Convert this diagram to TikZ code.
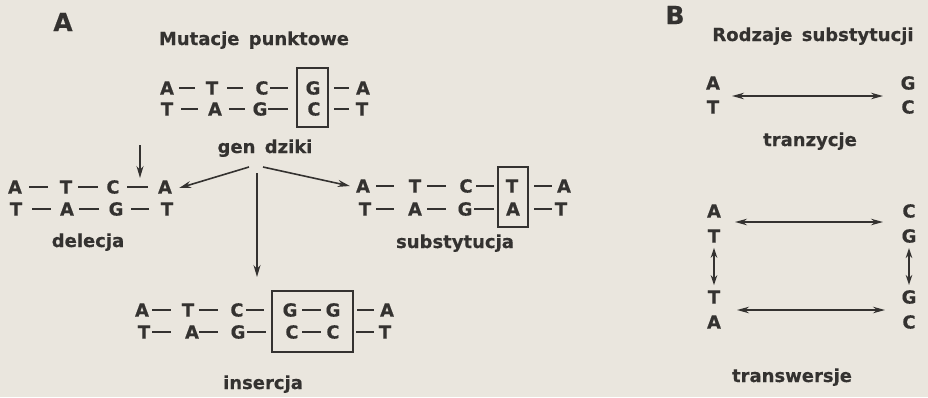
\documentclass[tikz,border=0pt]{standalone}
\usepackage{fontspec}
\setmainfont[BoldFeatures={FakeBold=0.4}]{DejaVu Sans}
\usetikzlibrary{arrows.meta}
\definecolor{bg}{RGB}{234,230,222}
\definecolor{ink}{RGB}{52,50,48}
\tikzset{
  base/.style={inner sep=0pt, font=\fontsize{18}{18}\selectfont\bfseries, text=ink},
  lbl/.style={inner sep=0pt, font=\fontsize{18}{20}\selectfont\bfseries, text=ink, anchor=base},
  big/.style={inner sep=0pt, font=\fontsize{25}{25}\selectfont\bfseries, text=ink},
  bond/.style={line width=2.6pt, draw=ink},
  frame/.style={draw=ink, line width=1.6pt, inner sep=0pt},
  arr/.style={draw=ink, line width=1.6pt, -{Stealth[length=12pt,width=7pt]}},
  darr/.style={draw=ink, line width=1.6pt, {Stealth[length=12pt,width=6.5pt]}-{Stealth[length=12pt,width=6.5pt]}},
  vdarr/.style={draw=ink, line width=1.6pt, {Stealth[length=10pt,width=6.5pt]}-{Stealth[length=10pt,width=6.5pt]}},
}
\begin{document}
\begin{tikzpicture}[x=1pt,y=-1pt]
\fill[bg] (0,0) rectangle (928,397);
\useasboundingbox (0,0) rectangle (928,397);

% ---------- Panel A ----------
\node[big] (labA) at (63,22) {A};
\node[lbl] (titA) at (254,45) {Mutacje\, punktowe};

% wild type
\foreach \x/\t [count=\i] in {167/A,212/T,262/C,313/G,363/A}
  \node[base] (w1-\i) at (\x,88) {\t};
\foreach \x/\t [count=\i] in {167/T,215/A,260/G,314/C,362/T}
  \node[base] (w2-\i) at (\x,109) {\t};
\foreach \a/\b in {179/195,227/243,270/288,334/349} \draw[bond] (\a,88) -- (\b,88);
\foreach \a/\b in {181/198,229/245,268/288,334/349} \draw[bond] (\a,109) -- (\b,109);
\node[frame, minimum width=31pt, minimum height=59pt] (wbox) at (312.5,97.5) {};
\node[lbl] (gen) at (265,153) {gen\, dziki};

% deletion
\foreach \x/\t [count=\i] in {15/A,66/T,113/C,165/A}
  \node[base] (d1-\i) at (\x,187) {\t};
\foreach \x/\t [count=\i] in {16/T,67/A,116/G,167/T}
  \node[base] (d2-\i) at (\x,209) {\t};
\foreach \a/\b in {29/48,78/98,127/148} \draw[bond] (\a,187) -- (\b,187);
\foreach \a/\b in {32/51,79/99,131/149} \draw[bond] (\a,209) -- (\b,209);
\node[lbl] (del) at (88,247) {delecja};
\coordinate (delTop) at (140,145);
\coordinate (delTip) at (140,178);
\draw[arr] (delTop) -- (delTip);

% substitution
\foreach \x/\t [count=\i] in {363/A,415/T,466/C,512/T,564/A}
  \node[base] (s1-\i) at (\x,186) {\t};
\foreach \x/\t [count=\i] in {365/T,415/A,465/G,513/A,561/T}
  \node[base] (s2-\i) at (\x,209) {\t};
\foreach \a/\b in {376/394,427/446,476/494,534/552} \draw[bond] (\a,186) -- (\b,186);
\foreach \a/\b in {376/394,427/446,474/494,534/552} \draw[bond] (\a,209) -- (\b,209);
\node[frame, minimum width=30pt, minimum height=60pt] (sbox) at (513,197) {};
\node[lbl] (sub) at (455,248) {substytucja};

% insertion
\foreach \x/\t [count=\i] in {142/A,188/T,237/C,290/G,333/G,387/A}
  \node[base] (i1-\i) at (\x,310) {\t};
\foreach \x/\t [count=\i] in {144/T,192/A,238/G,292/C,333/C,385/T}
  \node[base] (i2-\i) at (\x,332) {\t};
\foreach \a/\b in {152/171,199/218,246/264,302/321,357/374} \draw[bond] (\a,310) -- (\b,310);
\foreach \a/\b in {152/171,199/218,247/266,302/321,356/374} \draw[bond] (\a,332) -- (\b,332);
\node[frame, minimum width=81pt, minimum height=61pt] (ibox) at (312.5,321.5) {};
\node[lbl] (ins) at (263,389) {insercja};

% arrows from wild type
\coordinate (gL) at (249,167);
\coordinate (gR) at (263,167);
\coordinate (gD) at (257,173);
\coordinate (gDend) at (257,277);
\draw[arr] (gL) -- ([xshift=7pt,yshift=-1pt]d1-4.east);
\draw[arr] (gR) -- ([xshift=-6pt]s1-1.west);
\draw[arr] (gD) -- (gDend);

% ---------- Panel B ----------
\node[big] (labB) at (675,15) {B};
\node[lbl] (titB) at (813,41) {Rodzaje\, substytucji};

% transitions
\node[base] (tA) at (713,83) {A};
\node[base] (tT) at (713,107) {T};
\node[base] (tG) at (908,83) {G};
\node[base] (tC) at (908,107) {C};
\coordinate (tl) at (732,96);
\coordinate (tr) at (883,96);
\draw[darr] (tl) -- (tr);
\node[lbl] (tranz) at (810,146) {tranzycje};

% transversions
\node[base] (vA1) at (714,211) {A};
\node[base] (vT1) at (714,236) {T};
\node[base] (vT2) at (714,297) {T};
\node[base] (vA2) at (714,322) {A};
\node[base] (vC1) at (909,211) {C};
\node[base] (vG1) at (909,236) {G};
\node[base] (vG2) at (909,297) {G};
\node[base] (vC2) at (909,322) {C};
\coordinate (v1l) at (735,222);
\coordinate (v1r) at (883,222);
\coordinate (v2l) at (737,310);
\coordinate (v2r) at (885,310);
\draw[darr] (v1l) -- (v1r);
\draw[darr] (v2l) -- (v2r);
\draw[vdarr] ([yshift=-5pt]vT1.south) -- ([yshift=5pt]vT2.north);
\draw[vdarr] ([yshift=-5pt]vG1.south) -- ([yshift=5pt]vG2.north);
\node[lbl] (transw) at (792,382) {transwersje};
\end{tikzpicture}
\end{document}
